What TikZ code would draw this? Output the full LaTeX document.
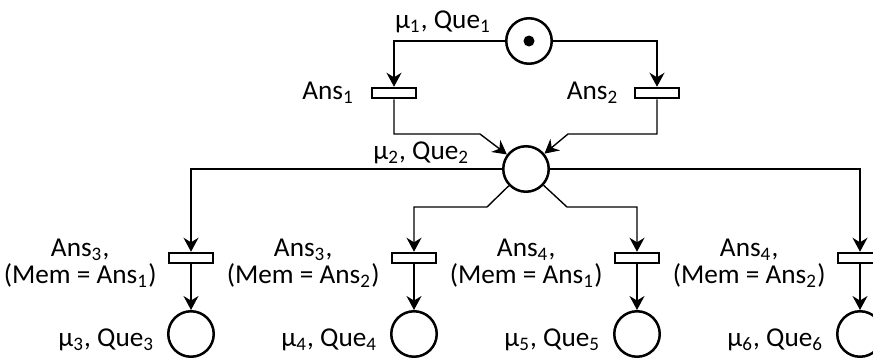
\documentclass[tikz,border=0pt]{standalone}
\usepackage{fontspec}
\setmainfont{Carlito}
\usetikzlibrary{arrows.meta, positioning}

\begin{document}
\begin{tikzpicture}[
  x=0.4pt, y=-0.4pt,
  >={Stealth[length=5.6pt, width=6pt]}, line width=0.55pt,
  font=\fontsize{10.9}{10.8}\selectfont,
  place/.style = {draw, circle, line width=1pt, minimum size=18.2pt, inner sep=0pt},
  trans/.style = {draw, rectangle, line width=0.8pt, minimum width=17.4pt, minimum height=4.2pt, inner sep=0pt},
  lbl/.style   = {inner sep=0pt, align=center},
]
\useasboundingbox (0,0) rectangle (873,360);

%── Nodes ─────────────────────────────────────────────────────────────────────
% Top place and first transitions
\node[place]        (p1)   at (529,  41) {};
\node[trans]        (t1)   at (394,  93) {};
\node[trans]        (t2)   at (657,  93) {};

% Middle place
\node[place]        (p2)   at (526, 169) {};

% Second transitions (y = 258)
\node[trans]        (t3)   at (191, 258) {};
\node[trans]        (t4)   at (414, 258) {};
\node[trans]        (t5)   at (637, 258) {};
\node[trans]        (t6)   at (860, 258) {};

% Bottom places (y = 334)
\node[place]        (p3)   at (191, 334) {};
\node[place]        (p4)   at (414, 334) {};
\node[place]        (p5)   at (637, 334) {};
\node[place]        (p6)   at (860, 334) {};

%── Bend coordinates ──────────────────────────────────────────────────────────
\coordinate (j1) at (480, 134);   % in-wire from t1
\coordinate (j2) at (568, 134);   % in-wire from t2
\coordinate (k1) at (487, 207);   % out-wire to t4
\coordinate (k2) at (567, 207);   % out-wire to t5

%── Token ─────────────────────────────────────────────────────────────────────
\fill (p1) circle (2.2pt);

%── Arcs ──────────────────────────────────────────────────────────────────────
\draw[->] (p1)        -|                  (t1);
\draw[->] (p1)        -|                  (t2);
\draw[->] (t1)        |- (j1)        --   (p2);
\draw[->] (t2)        |- (j2)        --   (p2);
\draw[->] (p2)        -|                  (t3);
\draw[->] (p2)        -|                  (t6);
\draw[->] (p2)        -- (k1)        -|   (t4);
\draw[->] (p2)        -- (k2)        -|   (t5);
\foreach \i in {3,...,6}
  \draw[->] (t\i) -- (p\i);

%── Labels ────────────────────────────────────────────────────────────────────
\node[lbl] (lp1) at (443, 22)  {μ\textsubscript{1}, Que\textsubscript{1}};
\node[lbl, anchor=east] (lp2) at (470, 153) {μ\textsubscript{2}, Que\textsubscript{2}};
\node[lbl, left=6.6pt of t1] (lt1) {Ans\textsubscript{1}};
\node[lbl, left=6pt of t2]   (lt2) {Ans\textsubscript{2}};

\node[lbl, left=4.4pt of t3, yshift=-2pt] (lt3) {Ans\textsubscript{3},\\(Mem = Ans\textsubscript{1})};
\node[lbl, left=4.4pt of t4, yshift=-2pt] (lt4) {Ans\textsubscript{3},\\(Mem = Ans\textsubscript{2})};
\node[lbl, left=4.4pt of t5, yshift=-2pt] (lt5) {Ans\textsubscript{4},\\(Mem = Ans\textsubscript{1})};
\node[lbl, left=4.4pt of t6, yshift=-2pt] (lt6) {Ans\textsubscript{4},\\(Mem = Ans\textsubscript{2})};

\node[lbl, left=4.8pt of p3, yshift=-2.2pt] (lp3) {μ\textsubscript{3}, Que\textsubscript{3}};
\node[lbl, left=4.8pt of p4, yshift=-2.2pt] (lp4) {μ\textsubscript{4}, Que\textsubscript{4}};
\node[lbl, left=4.8pt of p5, yshift=-2.2pt] (lp5) {μ\textsubscript{5}, Que\textsubscript{5}};
\node[lbl, left=4.8pt of p6, yshift=-2.2pt] (lp6) {μ\textsubscript{6}, Que\textsubscript{6}};

\end{tikzpicture}
\end{document}
